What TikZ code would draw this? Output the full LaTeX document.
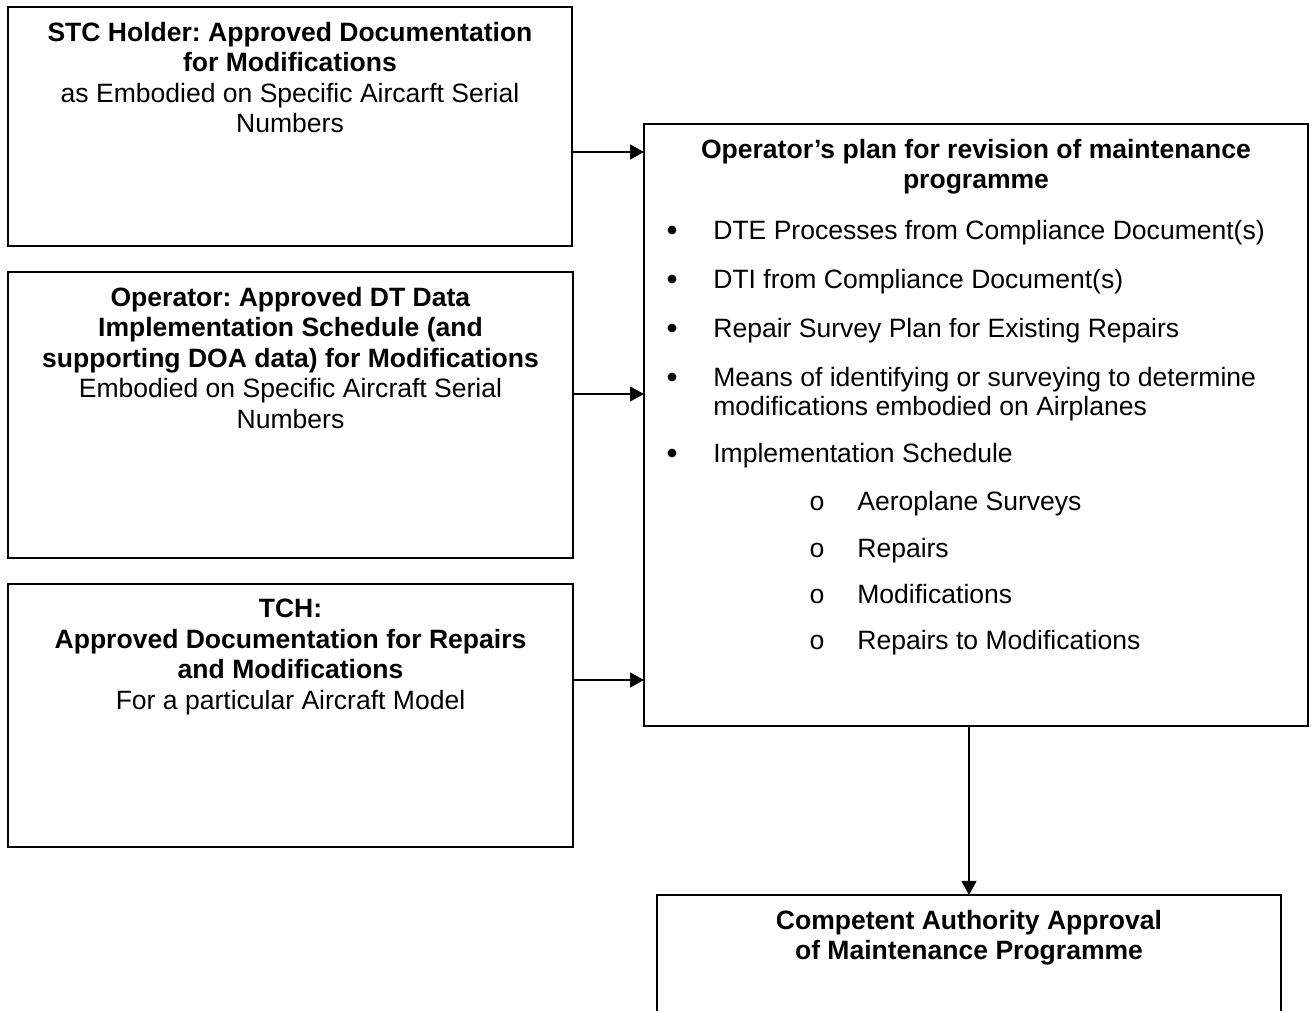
\documentclass[tikz,border=0pt]{standalone}
\usepackage{fontspec}
\setmainfont{Liberation Sans}
\newfontfamily\circfont{Liberation Mono}
\usepackage{tikz}
\usetikzlibrary{arrows.meta}
\usetikzlibrary{positioning}
\frenchspacing

\begin{document}
\begin{tikzpicture}[x=0.02cm,y=-0.02cm,line join=miter,
  box/.style={draw,line width=1.3pt,inner sep=0pt,outer sep=0pt},
  txt/.style={inner sep=0pt,font=\fontsize{15.1}{17.3}\selectfont},
  head/.style={txt,align=center,anchor=north},
  item/.style={txt,anchor=base west},
  arr/.style={->,line width=0.75pt},
  >={Triangle[length=8pt,width=8.5pt]}]
\useasboundingbox (0,0) rectangle (1313,1011);
\clip (0,0) rectangle (1313,1011);
% boxes
\node[box,minimum width=11.28cm,minimum height=4.78cm] (stc) at (290,126.5) {};
\node[box,minimum width=11.3cm,minimum height=5.72cm] (opr) at (290.5,415) {};
\node[box,minimum width=11.3cm,minimum height=5.26cm] (tch) at (290.5,715.5) {};
\node[box,minimum width=13.28cm,minimum height=12.04cm] (plan) at (976,425) {};
\node[box,minimum width=12.48cm,minimum height=3.2cm] (caa) at (969,975) {};
% box texts
\node[head] (stct) at (290,22) {\textbf{STC Holder: Approved Documentation}\\
  \textbf{for Modifications}\\ as Embodied on Specific Aircarft Serial\\ Numbers};
\node[head] (oprt) at (290.5,287) {\textbf{Operator: Approved DT Data}\\
  \textbf{Implementation Schedule (and}\\
  \textbf{supporting DOA data) for Modifications}\\
  Embodied on Specific Aircraft Serial\\ Numbers};
\node[head] (tcht) at (290.5,599) {\textbf{TCH:}\\
  \textbf{Approved Documentation for Repairs}\\
  \textbf{and Modifications}\\ For a particular Aircraft Model};
\node[head] (plant) at (976,139) {\textbf{Operator’s plan for revision of maintenance}\\
  \textbf{programme}};
\node[head] (caat) at (969,910) {\textbf{Competent Authority Approval}\\
  \textbf{of Maintenance Programme}};
% bullet list
\foreach \yb/\t in {239/DTE Processes from Compliance Document(s),
  288/DTI from Compliance Document(s),
  337/Repair Survey Plan for Existing Repairs,
  386/Means of identifying or surveying to determine,
  462/Implementation Schedule}{
  \fill (672,\yb-9) circle (2.5pt);
  \node[item] (it\yb) at (713,\yb) {\t};
}
\node[item] (it415) at (713,415) {modifications embodied on Airplanes};
\foreach \yb/\t in {510/Aeroplane Surveys,557/Repairs,603/Modifications,649/Repairs to Modifications}{
  \node[txt,anchor=base] (o\yb) at (817,\yb) {\circfont o};
  \node[item] (sub\yb) at (857,\yb) {\t};
}
% connectors
\coordinate (r1) at (0,152);
\coordinate (r2) at (0,394);
\coordinate (r3) at (0,680);
\draw[arr] (stc.east |- r1) -- (plan.west |- r1);
\draw[arr] (opr.east |- r2) -- (plan.west |- r2);
\draw[arr] (tch.east |- r3) -- (plan.west |- r3);
\draw[arr] (plan.south -| caa.north) -- (caa.north);
\end{tikzpicture}
\end{document}
